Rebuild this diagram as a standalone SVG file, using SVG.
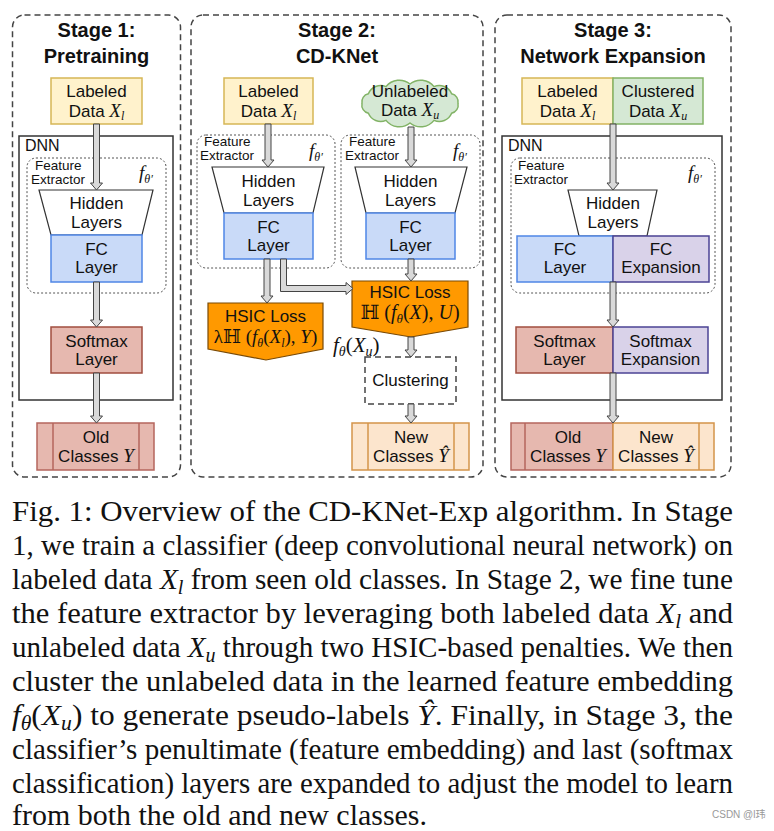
<svg xmlns="http://www.w3.org/2000/svg" width="774" height="831" viewBox="0 0 774 831">
<style>
.bg{fill:#ffffff}
.stage{fill:none;stroke:#444;stroke-width:1.5;stroke-dasharray:6,4}
.dnn{fill:none;stroke:#333;stroke-width:1.5}
.fe{fill:none;stroke:#555;stroke-width:1;stroke-dasharray:2,2}
.lab{fill:#fff2cc;stroke:#d6b656;stroke-width:1.5}
.unl{fill:#d5e8d4;stroke:#82b366;stroke-width:1.5}
.fc{fill:#c9daf8;stroke:#4f86e6;stroke-width:1.5}
.exp{fill:#d9d2e9;stroke:#4b4394;stroke-width:1.5}
.soft{fill:#e6b8af;stroke:#a14d3f;stroke-width:1.5}
.old{fill:#e6b8af;stroke:#b5665d;stroke-width:1.5}
.new{fill:#fce5cd;stroke:#d4944a;stroke-width:1.5}
.trap{fill:#ffffff;stroke:#333;stroke-width:1.2}
.hsic{fill:#ff9900;stroke:#7a4a05;stroke-width:1.2}
.clu{fill:#ffffff;stroke:#444;stroke-width:1.5;stroke-dasharray:6,4}
.arr{fill:#d9d9d9;stroke:#444;stroke-width:1}
text{fill:#111}
.t{font-family:"Liberation Sans",Arial,sans-serif;font-size:17px;text-anchor:middle}
.ttl{font-family:"Liberation Sans",Arial,sans-serif;font-size:20px;font-weight:bold;text-anchor:middle}
.sm{font-family:"Liberation Sans",Arial,sans-serif;font-size:13.5px}
.dn{font-family:"Liberation Sans",Arial,sans-serif;font-size:16px}
.m{font-family:"Liberation Serif","DejaVu Serif",serif;font-style:italic}
.mr{font-family:"Liberation Serif","DejaVu Serif",serif;font-style:normal}
.cap{font-family:"Liberation Serif","Times New Roman",serif;font-size:29px}
.wm{font-family:"Liberation Sans","Noto Sans CJK SC",sans-serif;font-size:10px;fill:#999}
</style>
<rect class="bg" x="0" y="0" width="774" height="831"/>

<g id="stage1">
<rect class="stage" x="12.5" y="15" width="168" height="462" rx="12"/>
<text class="ttl" x="96.5" y="37">Stage 1:</text>
<text class="ttl" x="96.5" y="63">Pretraining</text>
</g>
<g id="stage2">
<rect class="stage" x="191" y="15" width="292" height="462" rx="12"/>
<text class="ttl" x="337" y="37">Stage 2:</text>
<text class="ttl" x="337" y="63">CD-KNet</text>
</g>
<g id="stage3">
<rect class="stage" x="495" y="15" width="236" height="462" rx="12"/>
<text class="ttl" x="613" y="37">Stage 3:</text>
<text class="ttl" x="613" y="63">Network Expansion</text>
</g>

<!-- Stage 1 -->
<g id="s1-dnn">
<rect class="dnn" x="19" y="136" width="154" height="264"/>
<text class="dn" x="25" y="151">DNN</text>
</g>
<g id="s1-fe">
<rect class="fe" x="27" y="158" width="139" height="135" rx="9"/>
<text class="sm" x="35" y="170">Feature</text>
<text class="sm" x="31" y="184">Extractor</text>
<text class="m" x="139" y="179" font-size="19">f<tspan font-size="12" dy="4">θ′</tspan></text>
</g>
<g id="s1-labeled">
<rect class="lab" x="51" y="78" width="91" height="46"/>
<text class="t" x="96.5" y="97">Labeled</text>
<text class="t" x="96.5" y="117">Data <tspan class="m" font-size="19">X</tspan><tspan class="m" font-size="12" dy="3">l</tspan></text>
</g>
<g id="s1-hidden">
<polygon class="trap" points="39,190 153,190 142,235 51,235"/>
<text class="t" x="96.5" y="209">Hidden</text>
<text class="t" x="96.5" y="228">Layers</text>
</g>
<g id="s1-fc">
<rect class="fc" x="51" y="235" width="91" height="47"/>
<text class="t" x="96.5" y="255">FC</text>
<text class="t" x="96.5" y="273">Layer</text>
</g>
<g id="s1-softmax">
<rect class="soft" x="51" y="327" width="91" height="46"/>
<text class="t" x="96.5" y="347">Softmax</text>
<text class="t" x="96.5" y="365">Layer</text>
</g>
<g id="s1-old">
<rect class="old" x="37" y="423" width="117" height="47"/>
<line class="old" x1="53" y1="423" x2="53" y2="470"/>
<line class="old" x1="139" y1="423" x2="139" y2="470"/>
<text class="t" x="96" y="443">Old</text>
<text class="t" x="96" y="462">Classes <tspan class="m" font-size="19">Y</tspan></text>
</g>

<!-- Stage 2 -->
<g id="s2-fe-left">
<rect class="fe" x="197" y="135" width="138" height="133" rx="9"/>
<text class="sm" x="204" y="146">Feature</text>
<text class="sm" x="200" y="160">Extractor</text>
<text class="m" x="309" y="157" font-size="19">f<tspan font-size="12" dy="4">θ′</tspan></text>
</g>
<g id="s2-fe-right">
<rect class="fe" x="341" y="135" width="139" height="133" rx="9"/>
<text class="sm" x="349" y="146">Feature</text>
<text class="sm" x="345" y="160">Extractor</text>
<text class="m" x="453" y="157" font-size="19">f<tspan font-size="12" dy="4">θ′</tspan></text>
</g>
<g id="s2-labeled">
<rect class="lab" x="224" y="78" width="89" height="46"/>
<text class="t" x="268.5" y="97">Labeled</text>
<text class="t" x="268.5" y="117">Data <tspan class="m" font-size="19">X</tspan><tspan class="m" font-size="12" dy="3">l</tspan></text>
</g>
<g id="s2-unlabeled">
<path class="unl" d="M362,103.5 A8.2,8.2 0 0 1 368.4,93.75 A13.3,13.3 0 0 1 386,86.6 A16.9,16.9 0 0 1 410,84 A16.9,16.9 0 0 1 434,86.6 A13.3,13.3 0 0 1 451.6,93.75 A8.2,8.2 0 0 1 458,103.5 A8.2,8.2 0 0 1 451.6,113.25 A13.3,13.3 0 0 1 434,120.4 A16.9,16.9 0 0 1 410,123 A16.9,16.9 0 0 1 386,120.4 A13.3,13.3 0 0 1 368.4,113.25 A8.2,8.2 0 0 1 362,103.5 Z"/>
<text class="t" x="410" y="97">Unlabeled</text>
<text class="t" x="410" y="116">Data <tspan class="m" font-size="19">X</tspan><tspan class="m" font-size="12" dy="3">u</tspan></text>
</g>
<g id="s2-hidden-left">
<polygon class="trap" points="212,167 324,167 313,213 224,213"/>
<text class="t" x="268.5" y="187">Hidden</text>
<text class="t" x="268.5" y="206">Layers</text>
</g>
<g id="s2-hidden-right">
<polygon class="trap" points="355,167 467,167 455,213 366,213"/>
<text class="t" x="410.5" y="187">Hidden</text>
<text class="t" x="410.5" y="206">Layers</text>
</g>
<g id="s2-fc-left">
<rect class="fc" x="224" y="213" width="89" height="46"/>
<text class="t" x="268.5" y="233">FC</text>
<text class="t" x="268.5" y="251">Layer</text>
</g>
<g id="s2-fc-right">
<rect class="fc" x="366" y="213" width="89" height="46"/>
<text class="t" x="410.5" y="233">FC</text>
<text class="t" x="410.5" y="251">Layer</text>
</g>
<g id="s2-hsic-left">
<polygon class="hsic" points="208,303 323,303 323,349 266,360 208,349"/>
<text class="t" x="265.5" y="322">HSIC Loss</text>
<text class="mr" x="265.5" y="343" font-size="19" text-anchor="middle">λℍ (<tspan class="m">f</tspan><tspan class="m" font-size="12" dy="4">θ</tspan><tspan dy="-4">(</tspan><tspan class="m">X</tspan><tspan class="m" font-size="12" dy="4">l</tspan><tspan dy="-4">), </tspan><tspan class="m">Y</tspan>)</text>
</g>
<g id="s2-hsic-right">
<polygon class="hsic" points="352,281 468,281 468,327 411,337 352,327"/>
<text class="t" x="410" y="298">HSIC Loss</text>
<text class="mr" x="410" y="319" font-size="20" text-anchor="middle">ℍ (<tspan class="m">f</tspan><tspan class="m" font-size="13" dy="4">θ</tspan><tspan dy="-4">(</tspan><tspan class="m">X</tspan>), <tspan class="m">U</tspan>)</text>
</g>
<g id="s2-embed-label">
<text class="m" x="333" y="352" font-size="21">f<tspan font-size="14" dy="4">θ</tspan><tspan class="mr" dy="-4">(</tspan>X<tspan font-size="14" dy="4">u</tspan><tspan class="mr" dy="-4">)</tspan></text>
</g>
<g id="s2-clustering">
<rect class="clu" x="365" y="357" width="91" height="47"/>
<text class="t" x="410.5" y="386">Clustering</text>
</g>
<g id="s2-new">
<rect class="new" x="352" y="423" width="117" height="47"/>
<line class="new" x1="368" y1="423" x2="368" y2="470"/>
<line class="new" x1="454" y1="423" x2="454" y2="470"/>
<text class="t" x="411" y="443">New</text>
<text class="t" x="411" y="462">Classes <tspan class="m" font-size="19">Ŷ</tspan></text>
</g>

<!-- Stage 3 -->
<g id="s3-dnn">
<rect class="dnn" x="502" y="136" width="220" height="264"/>
<text class="dn" x="508" y="151">DNN</text>
</g>
<g id="s3-fe">
<rect class="fe" x="511" y="158" width="204" height="135" rx="9"/>
<text class="sm" x="518" y="170">Feature</text>
<text class="sm" x="514" y="184">Extractor</text>
<text class="m" x="688" y="179" font-size="19">f<tspan font-size="12" dy="4">θ′</tspan></text>
</g>
<g id="s3-labeled">
<rect class="lab" x="522" y="78" width="91" height="46"/>
<text class="t" x="567.5" y="97">Labeled</text>
<text class="t" x="567.5" y="117">Data <tspan class="m" font-size="19">X</tspan><tspan class="m" font-size="12" dy="3">l</tspan></text>
</g>
<g id="s3-clustered">
<rect class="unl" x="613" y="78" width="90" height="46"/>
<text class="t" x="658" y="97">Clustered</text>
<text class="t" x="658" y="117">Data <tspan class="m" font-size="19">X</tspan><tspan class="m" font-size="12" dy="3">u</tspan></text>
</g>
<g id="s3-hidden">
<polygon class="trap" points="568,190 657,190 647,236 579,236"/>
<text class="t" x="613" y="209">Hidden</text>
<text class="t" x="613" y="228">Layers</text>
</g>
<g id="s3-fc">
<rect class="fc" x="517" y="236" width="96" height="46"/>
<text class="t" x="565" y="255">FC</text>
<text class="t" x="565" y="273">Layer</text>
</g>
<g id="s3-fc-exp">
<rect class="exp" x="613" y="236" width="96" height="46"/>
<text class="t" x="661" y="255">FC</text>
<text class="t" x="661" y="273">Expansion</text>
</g>
<g id="s3-softmax">
<rect class="soft" x="516" y="327" width="97" height="46"/>
<text class="t" x="564.5" y="347">Softmax</text>
<text class="t" x="564.5" y="365">Layer</text>
</g>
<g id="s3-softmax-exp">
<rect class="exp" x="613" y="327" width="95" height="46"/>
<text class="t" x="660.5" y="347">Softmax</text>
<text class="t" x="660.5" y="365">Expansion</text>
</g>
<g id="s3-old">
<rect class="old" x="511" y="423" width="102" height="47"/>
<line class="old" x1="525" y1="423" x2="525" y2="470"/>
<text class="t" x="568" y="443">Old</text>
<text class="t" x="568" y="462">Classes <tspan class="m" font-size="19">Y</tspan></text>
</g>
<g id="s3-new">
<rect class="new" x="613" y="423" width="101" height="47"/>
<line class="new" x1="699" y1="423" x2="699" y2="470"/>
<text class="t" x="656" y="443">New</text>
<text class="t" x="656" y="462">Classes <tspan class="m" font-size="19">Ŷ</tspan></text>
</g>

<g id="connectors">
<polygon class="arr" points="93.5,124 99.5,124 99.5,183 102.5,183 96.5,190 90.5,183 93.5,183"/>
<polygon class="arr" points="93.5,282 99.5,282 99.5,320 102.5,320 96.5,327 90.5,320 93.5,320"/>
<polygon class="arr" points="93.5,373 99.5,373 99.5,416 102.5,416 96.5,423 90.5,416 93.5,416"/>
<polygon class="arr" points="265,124 271,124 271,160 274,160 268,167 262,160 265,160"/>
<polygon class="arr" points="408,127 414,127 414,160 417,160 411,167 405,160 408,160"/>
<polygon class="arr" points="264,259 270,259 270,296 273,296 267,303 261,296 264,296"/>
<polygon class="arr" points="280.5,259 286.5,259 286.5,285.5 346,285.5 346,282.5 353,288.5 346,294.5 346,291.5 280.5,291.5"/>
<polygon class="arr" points="408,259 414,259 414,274 417,274 411,281 405,274 408,274"/>
<polygon class="arr" points="408,337 414,337 414,350 417,350 411,357 405,350 408,350"/>
<polygon class="arr" points="408,404 414,404 414,416 417,416 411,423 405,416 408,416"/>
<polygon class="arr" points="610,124 616,124 616,183 619,183 613,190 607,183 610,183"/>
<polygon class="arr" points="610,282 616,282 616,320 619,320 613,327 607,320 610,320"/>
<polygon class="arr" points="610,373 616,373 616,416 619,416 613,423 607,416 610,416"/>
</g>

<g id="caption">
<text class="cap" x="12" y="521" textLength="721" lengthAdjust="spacingAndGlyphs">Fig. 1: Overview of the CD-KNet-Exp algorithm. In Stage</text>
<text class="cap" x="12" y="555" textLength="721" lengthAdjust="spacingAndGlyphs">1, we train a classifier (deep convolutional neural network) on</text>
<text class="cap" x="12" y="589" textLength="721" lengthAdjust="spacingAndGlyphs">labeled data <tspan font-style="italic">X</tspan><tspan font-style="italic" font-size="20" dy="5">l</tspan><tspan dy="-5"> from seen old classes. In Stage 2, we fine tune</tspan></text>
<text class="cap" x="12" y="623" textLength="721" lengthAdjust="spacingAndGlyphs">the feature extractor by leveraging both labeled data <tspan font-style="italic">X</tspan><tspan font-style="italic" font-size="20" dy="5">l</tspan><tspan dy="-5"> and</tspan></text>
<text class="cap" x="12" y="657" textLength="721" lengthAdjust="spacingAndGlyphs">unlabeled data <tspan font-style="italic">X</tspan><tspan font-style="italic" font-size="20" dy="5">u</tspan><tspan dy="-5"> through two HSIC-based penalties. We then</tspan></text>
<text class="cap" x="12" y="691" textLength="721" lengthAdjust="spacingAndGlyphs">cluster the unlabeled data in the learned feature embedding</text>
<text class="cap" x="12" y="725" textLength="721" lengthAdjust="spacingAndGlyphs"><tspan font-style="italic">f</tspan><tspan font-style="italic" font-size="20" dy="5">θ</tspan><tspan dy="-5">(</tspan><tspan font-style="italic">X</tspan><tspan font-style="italic" font-size="20" dy="5">u</tspan><tspan dy="-5">) to generate pseudo-labels </tspan><tspan font-style="italic">Ŷ</tspan>. Finally, in Stage 3, the</text>
<text class="cap" x="12" y="759" textLength="721" lengthAdjust="spacingAndGlyphs">classifier’s penultimate (feature embedding) and last (softmax</text>
<text class="cap" x="12" y="793" textLength="721" lengthAdjust="spacingAndGlyphs">classification) layers are expanded to adjust the model to learn</text>
<text class="cap" x="12" y="825" textLength="415" lengthAdjust="spacingAndGlyphs">from both the old and new classes.</text>
<text class="wm" x="712" y="818">CSDN @l玮</text>
</g>
</svg>
